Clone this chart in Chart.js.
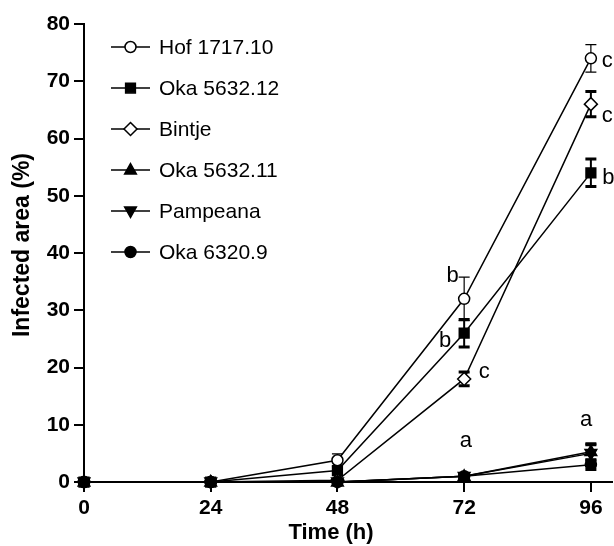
<!DOCTYPE html>
<html>
<head>
<meta charset="utf-8">
<script src="https://cdn.jsdelivr.net/npm/chart.js@4.4.1/dist/chart.umd.min.js"></script>
<style>
  html, body { margin: 0; padding: 0; background: #fff; }
  #wrap { width: 614px; height: 546px; }
</style>
</head>
<body>
<div id="wrap"><canvas id="chartInfection" width="614" height="546"></canvas></div>
<script>
// Données
const times = [0, 24, 48, 72, 96];
const xTicks = [0, 24, 48, 72, 96];
const seriesNames = ['Hof 1717.10', 'Oka 5632.12', 'Bintje', 'Oka 5632.11', 'Pampeana', 'Oka 6320.9'];

const hof = [0, 0, 3.8, 32, 74];
const hofErr = [0, 0, 1.1, 3.8, 2.4];
const oka12 = [0, 0, 2, 26, 54];
const oka12Err = [0, 0, 2, 2.4, 2.4];
const bintje = [0, 0, 0.3, 18, 66];
const bintjeErr = [0, 0, 0, 1.2, 2.2];
const oka11 = [0, 0, 0, 1, 5.3];
const oka11Err = [0, 0, 0, 0.5, 1.4];
const pampeana = [0, 0, 0, 1, 5];
const pampeanaErr = [0, 0, 0, 0.5, 1.5];
const oka6320 = [0, 0, 0, 1, 3];
const oka6320Err = [0, 0, 0, 0.5, 0.8];

// Lettres de significativité (position en unités des axes)
const letters = [
    { x: 69.8, y: 36, text: 'b' },
    { x: 68.4, y: 24.6, text: 'b' },
    { x: 75.8, y: 19.2, text: 'c' },
    { x: 72.3, y: 7.2, text: 'a' },
    { x: 99.1, y: 73.5, text: 'c' },
    { x: 99.1, y: 63.9, text: 'c' },
    { x: 99.3, y: 53.1, text: 'b' },
    { x: 95.1, y: 10.8, text: 'a' }
];

const xTitle = 'Time (h)';
const yTitle = 'Infected area (%)';

const allValues = [hof, oka12, bintje, oka11, pampeana, oka6320];
const allErrors = [hofErr, oka12Err, bintjeErr, oka11Err, pampeanaErr, oka6320Err];
const markerStyles = [
    { style: 'circle', fill: '#fff', radius: 5.5, rotation: 0 },
    { style: 'rect', fill: '#000', radius: 6.5, rotation: 0 },
    { style: 'rectRot', fill: '#fff', radius: 6.5, rotation: 0 },
    { style: 'triangle', fill: '#000', radius: 6.5, rotation: 0 },
    { style: 'triangle', fill: '#000', radius: 6.5, rotation: 180 },
    { style: 'circle', fill: '#000', radius: 5.5, rotation: 0 }
];
const thickCaps = [false, true, true, true, true, true];

const FONT = '"Liberation Sans", Arial, sans-serif';

function drawMarker(ctx, m, x, y) {
    ctx.save();
    ctx.translate(x, y);
    ctx.rotate(m.rotation * Math.PI / 180);
    ctx.beginPath();
    const r = m.radius;
    if (m.style === 'circle') {
        ctx.arc(0, 0, r, 0, Math.PI * 2);
    } else if (m.style === 'rect') {
        const s = r * 0.75;
        ctx.rect(-s, -s, 2 * s, 2 * s);
    } else if (m.style === 'rectRot') {
        ctx.moveTo(0, -r); ctx.lineTo(r, 0); ctx.lineTo(0, r); ctx.lineTo(-r, 0); ctx.closePath();
    } else if (m.style === 'triangle') {
        ctx.moveTo(0, -r); ctx.lineTo(r * 0.9, r * 0.6); ctx.lineTo(-r * 0.9, r * 0.6); ctx.closePath();
    }
    ctx.fillStyle = m.fill;
    ctx.fill();
    ctx.lineWidth = 1.5;
    ctx.strokeStyle = '#000';
    ctx.stroke();
    ctx.restore();
}

// Barres d'erreur + marqueurs
const errorBarsPlugin = {
    id: 'errorBars',
    afterDatasetsDraw(chart) {
        const ctx = chart.ctx;
        const xs = chart.scales.x, ys = chart.scales.y;
        ctx.save();
        ctx.strokeStyle = '#000';
        allErrors.forEach((errs, d) => {
            errs.forEach((e, i) => {
                if (!e) return;
                const px = xs.getPixelForValue(times[i]);
                const top = ys.getPixelForValue(allValues[d][i] + e);
                const bot = ys.getPixelForValue(allValues[d][i] - e);
                ctx.lineWidth = thickCaps[d] ? 2 : 1.2;
                ctx.beginPath();
                ctx.moveTo(px, top); ctx.lineTo(px, bot);
                ctx.stroke();
                ctx.lineWidth = thickCaps[d] ? 3 : 1.2;
                ctx.beginPath();
                ctx.moveTo(px - 5.5, top); ctx.lineTo(px + 5.5, top);
                ctx.moveTo(px - 5.5, bot); ctx.lineTo(px + 5.5, bot);
                ctx.stroke();
            });
        });
        allValues.forEach((vals, d) => {
            vals.forEach((v, i) => {
                drawMarker(ctx, markerStyles[d], xs.getPixelForValue(times[i]), ys.getPixelForValue(v));
            });
        });
        ctx.restore();
    }
};

// Légende, lettres et titres des axes
const legendPlugin = {
    id: 'customLegend',
    afterDraw(chart) {
        const ctx = chart.ctx;
        const xs = chart.scales.x, ys = chart.scales.y;
        ctx.save();
        ctx.font = '21px ' + FONT;
        ctx.textBaseline = 'middle';
        ctx.fillStyle = '#000';
        seriesNames.forEach((name, i) => {
            const y = 47 + i * 41;
            ctx.strokeStyle = '#000';
            ctx.lineWidth = 1.5;
            ctx.beginPath();
            ctx.moveTo(111, y); ctx.lineTo(150, y);
            ctx.stroke();
            drawMarker(ctx, markerStyles[i], 130.5, y);
            ctx.textAlign = 'left';
            ctx.fillText(name, 159, y + 1);
        });
        ctx.font = '22px ' + FONT;
        ctx.textAlign = 'center';
        letters.forEach(l => {
            ctx.fillText(l.text, xs.getPixelForValue(l.x), ys.getPixelForValue(l.y));
        });

        ctx.font = 'bold 22px ' + FONT;
        ctx.fillText(xTitle, 331, 533);
        ctx.font = 'bold 23px ' + FONT;
        ctx.translate(22, 245);
        ctx.rotate(-Math.PI / 2);
        ctx.fillText(yTitle, 0, 1);
        ctx.restore();
    }
};

const datasets = allValues.map((vals, d) => ({
    label: seriesNames[d],
    data: times.map((t, i) => ({ x: t, y: vals[i] })),
    borderColor: '#000',
    borderWidth: 1.5,
    pointRadius: 0,
    pointHoverRadius: 0,
    clip: false,
    fill: false,
    tension: 0
}));

const canvas = document.getElementById('chartInfection');

new Chart(canvas, {
    type: 'line',
    data: { datasets: datasets },
    plugins: [errorBarsPlugin, legendPlugin],
    options: {
        responsive: false,
        animation: false,
        events: [],
        layout: { padding: { top: 24, right: 2, left: 0, bottom: 0 } },
        plugins: {
            legend: { display: false },
            tooltip: { enabled: false }
        },
        scales: {
            x: {
                type: 'linear',
                min: 0,
                max: 100,
                afterBuildTicks: axis => { axis.ticks = xTicks.map(v => ({ value: v })); },
                afterFit: axis => { axis.height = 64; },
                grid: { drawOnChartArea: false, drawTicks: true, tickLength: 10, color: '#000', lineWidth: 2 },
                border: { color: '#000', width: 2 },
                ticks: {
                    color: '#000',
                    padding: 4,
                    maxRotation: 0,
                    font: { family: FONT, size: 21, weight: 'bold' }
                }
            },
            y: {
                min: 0,
                max: 80,
                afterFit: axis => { axis.width = 84; },
                grid: { drawOnChartArea: false, drawTicks: true, tickLength: 10, color: '#000', lineWidth: 2 },
                border: { color: '#000', width: 2 },
                ticks: {
                    stepSize: 10,
                    color: '#000',
                    padding: 4,
                    font: { family: FONT, size: 21, weight: 'bold' }
                }
            }
        }
    }
});
</script>
</body>
</html>
